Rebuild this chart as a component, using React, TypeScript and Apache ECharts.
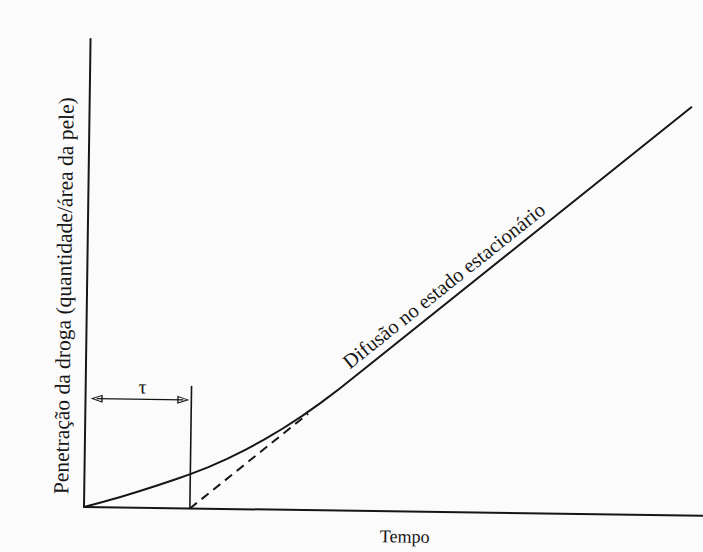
import React, { useEffect, useRef } from "react";
import * as echarts from "echarts";

// ---- data ----
const curveTime = [0, 3, 6, 9, 12, 15, 17.1, 20, 23, 26, 29, 32, 35, 38, 41, 42.1, 48, 97.3];
const curvePenetration = [0, 1.12, 2.31, 3.57, 4.91, 6.32, 7.35, 8.9, 10.71, 12.73, 14.97, 17.42, 20.07, 22.95, 26.03, 27.21, 33.64, 87.32];
const lagTime = 17.1;
const steadyStart = [17.1, 0];
const extrapolationEnd = [36, 20.6];
const steadyEnd = [97.3, 87.3];
const tauLineTop = 26.2;
const tauArrowY = 23.2;
const tauArrowFrom = 1.8;
const tauArrowTo = 15.8;
const lineLabelStartTime = 43.5;
const tauLabelPos = [9.2, 25.9];
const axisMin = 0;
const axisMax = 100;

const xLabel = "Tempo";
const yLabel = "Penetração da droga (quantidade/área da pele)";
const lineLabel = "Difusão no estado estacionário";
const tauLabel = "τ";

const INK = "#161616";
const SERIF = "Liberation Serif";
const ARROW =
  "path://M5,0 L10,14 L0,14 Z M5,3.6 L1.9,12.4 L8.1,12.4 Z";

export default function App() {
  const ref = useRef<HTMLDivElement>(null);

  useEffect(() => {
    if (!ref.current) return;
    const chart = echarts.init(ref.current, null, { renderer: "svg" });
    const hiddenAxis = {
      type: "value" as const,
      min: axisMin,
      max: axisMax,
      axisLine: { show: true, onZero: false, lineStyle: { color: INK, width: 2 } },
      axisTick: { show: false },
      axisLabel: { show: false },
      splitLine: { show: false },
    };
    chart.setOption({
      animation: false,
      textStyle: { fontFamily: SERIF },
      grid: { left: 84, top: 39, right: 0, bottom: 45, containLabel: false },
      xAxis: hiddenAxis,
      yAxis: hiddenAxis,
      series: [
        {
          type: "line",
          data: [steadyStart, extrapolationEnd],
          showSymbol: false,
          lineStyle: { color: INK, width: 2, type: [9, 6] },
          z: 2,
        },
        {
          type: "line",
          data: curveTime.map((t, i) => [t, curvePenetration[i]]),
          showSymbol: false,
          smooth: false,
          lineStyle: { color: INK, width: 2, join: "round" },
          z: 3,
        },
        {
          type: "line",
          data: [
            [lagTime, 0],
            [lagTime, tauLineTop],
          ],
          showSymbol: false,
          lineStyle: { color: INK, width: 1.6 },
          z: 3,
          markLine: {
            silent: true,
            symbol: [ARROW, ARROW],
            symbolSize: [8, 12],
            label: { show: false },
            lineStyle: { color: INK, width: 1.4, type: "solid" },
            data: [
              [
                { coord: [tauArrowFrom, tauArrowY] },
                { coord: [tauArrowTo, tauArrowY] },
              ],
            ],
          },
        },
      ],
    });

    const p0 = chart.convertToPixel({ gridIndex: 0 }, steadyStart) as number[];
    const p1 = chart.convertToPixel({ gridIndex: 0 }, steadyEnd) as number[];
    const ang = Math.atan2(p0[1] - p1[1], p1[0] - p0[0]);
    const slope = (steadyEnd[1] - steadyStart[1]) / (steadyEnd[0] - steadyStart[0]);
    const ts = chart.convertToPixel({ gridIndex: 0 }, [
      lineLabelStartTime,
      slope * (lineLabelStartTime - lagTime),
    ]) as number[];
    const off = 5;
    const ax = ts[0] - off * Math.sin(ang);
    const ay = ts[1] - off * Math.cos(ang);
    const tp = chart.convertToPixel({ gridIndex: 0 }, tauLabelPos) as number[];

    const txt = (text: string, size: number, align: string, valign: string) => ({
      text,
      fontFamily: SERIF,
      fontSize: size,
      fill: INK,
      align,
      verticalAlign: valign,
      textAlign: align,
      textVerticalAlign: valign,
    });

    chart.setOption({
      graphic: [
        { type: "text", x: ax, y: ay, rotation: ang, style: txt(lineLabel, 20.5, "left", "bottom") },
        { type: "text", x: tp[0], y: tp[1], style: txt(tauLabel, 20, "center", "middle") },
        { type: "text", x: 405, y: 532, style: txt(xLabel, 18, "center", "middle") },
        {
          type: "text",
          x: 61,
          y: 296,
          rotation: Math.PI / 2,
          style: txt(yLabel, 21.5, "center", "middle"),
        },
      ],
    });

    return () => chart.dispose();
  }, []);

  return (
    <div
      style={{
        position: "fixed",
        left: 0,
        top: 0,
        width: 703,
        height: 552,
        background: "#fbfbfb",
        overflow: "hidden",
      }}
    >
      <div
        ref={ref}
        style={{
          width: 703,
          height: 552,
          transform: "rotate(0.8deg)",
          transformOrigin: "84px 507px",
        }}
      />
    </div>
  );
}
